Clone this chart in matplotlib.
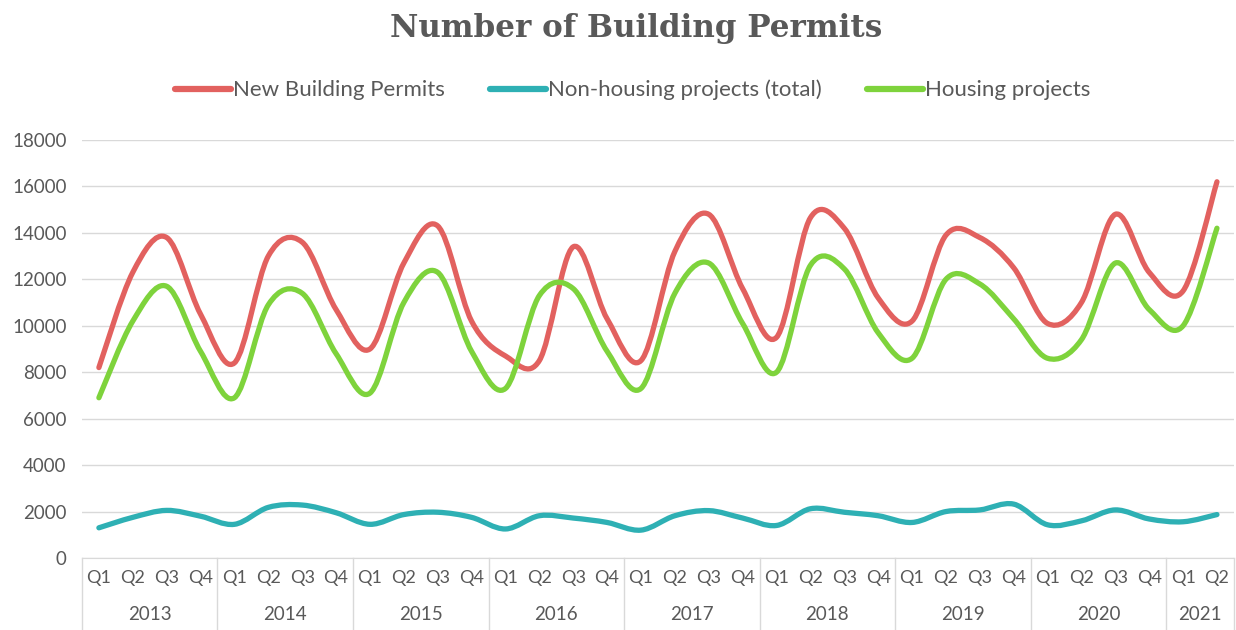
import matplotlib
matplotlib.use("Agg")
import matplotlib.pyplot as plt
from matplotlib.path import Path
from matplotlib.patches import PathPatch
from matplotlib.lines import Line2D
import matplotlib.transforms as mtransforms

# ---- data -------------------------------------------------------------
years = ["2013", "2014", "2015", "2016", "2017", "2018", "2019", "2020", "2021"]
quarters_per_year = [4, 4, 4, 4, 4, 4, 4, 4, 2]
quarter_labels = ["Q1", "Q2", "Q3", "Q4"]

new_permits = [8200, 12300, 13800, 10500,
               8400, 13000, 13600, 10700,
               9000, 12700, 14300, 10200,
               8700, 8500, 13400, 10300,
               8500, 13200, 14800, 11600,
               9500, 14650, 14200, 11200,
               10200, 13900, 13800, 12500,
               10100, 11000, 14800, 12300,
               11500, 16200]
non_housing = [1300, 1750, 2050, 1800,
               1450, 2180, 2280, 1950,
               1450, 1870, 1970, 1750,
               1250, 1820, 1720, 1530,
               1200, 1820, 2040, 1720,
               1400, 2120, 1970, 1820,
               1530, 2000, 2070, 2320,
               1430, 1600, 2070, 1680,
               1560, 1870]
housing = [6900, 10200, 11700, 8900,
           6900, 10900, 11400, 8800,
           7100, 11000, 12300, 8900,
           7300, 11300, 11600, 8900,
           7300, 11400, 12700, 10100,
           8000, 12600, 12450, 9700,
           8600, 12000, 11800, 10300,
           8600, 9400, 12700, 10700,
           10000, 14200]

series_names = ["New Building Permits", "Non-housing projects (total)", "Housing projects"]
series_values = [new_permits, non_housing, housing]
series_colors = ["#e2615f", "#2eb0b4", "#7ed33c"]

TEXT = "#595959"
GRID = "#d9d9d9"
FONT = "Lato"


def smooth_path(xs, ys, k=1.0 / 6.0):
    """Cubic Bezier path through the points (Catmull-Rom style smoothing)."""
    n = len(xs)
    verts = [(xs[0], ys[0])]
    codes = [Path.MOVETO]
    for i in range(n - 1):
        x0, y0 = (xs[i - 1], ys[i - 1]) if i > 0 else (xs[i], ys[i])
        x1, y1 = xs[i], ys[i]
        x2, y2 = xs[i + 1], ys[i + 1]
        x3, y3 = (xs[i + 2], ys[i + 2]) if i + 2 < n else (x2, y2)
        c1 = (x1 + (x2 - x0) * k, y1 + (y2 - y0) * k)
        c2 = (x2 - (x3 - x1) * k, y2 - (y3 - y1) * k)
        verts += [c1, c2, (x2, y2)]
        codes += [Path.CURVE4] * 3
    return Path(verts, codes)


fig = plt.figure(figsize=(12.36, 6.3), dpi=100)
ax = fig.add_axes([0.0663, 0.1143, 0.9320, 0.6635])

n = len(new_permits)
xs = list(range(n))
for vals, col in zip(series_values, series_colors):
    patch = PathPatch(smooth_path(xs, vals), facecolor="none", edgecolor=col,
                      lw=3.8, capstyle="round", joinstyle="round", zorder=3)
    ax.add_patch(patch)

ax.set_xlim(-0.5, n - 0.5)
ax.set_ylim(0, 18000)
ax.set_yticks(range(0, 18001, 2000))
ax.yaxis.grid(True, color=GRID, lw=1.0)
ax.set_axisbelow(True)
for s in ["top", "right", "left"]:
    ax.spines[s].set_visible(False)
ax.spines["bottom"].set_color(GRID)
ax.tick_params(axis="y", length=0, pad=11, labelsize=13.5, labelcolor=TEXT)
for lab in ax.get_yticklabels():
    lab.set_fontfamily(FONT)

# two-level category axis: quarters over years
ax.set_xticks([])
trans = mtransforms.blended_transform_factory(ax.transData, ax.transAxes)
ax_h = 418.0
q_y = -20 / ax_h
yr_y = -57 / ax_h
sep_bottom = -75 / ax_h
pos = 0
bounds = [-0.5]
for yr, nq in zip(years, quarters_per_year):
    for q in range(nq):
        ax.text(pos + q, q_y, quarter_labels[q], transform=trans, ha="center", va="center",
                fontsize=13, color=TEXT, family=FONT)
    ax.text(pos + (nq - 1) / 2, yr_y, yr, transform=trans, ha="center", va="center",
            fontsize=13.5, color=TEXT, family=FONT)
    pos += nq
    bounds.append(pos - 0.5)
for b in bounds:
    ax.add_line(Line2D([b, b], [0, sep_bottom], transform=trans, color=GRID,
                       lw=1.0, clip_on=False))

# title and legend
fig.text(0.515, 0.955, "Number of Building Permits", ha="center", va="center",
         fontsize=22.3, fontweight="bold", color=TEXT, family="DejaVu Serif")
handles = [Line2D([], [], color=c, lw=4.5, solid_capstyle="round") for c in series_colors]
leg = fig.legend(handles, series_names, loc="center", bbox_to_anchor=(0.512, 0.857),
                 ncol=3, frameon=False, handlelength=2.5, handletextpad=0.1,
                 columnspacing=2.05, prop={"family": FONT, "size": 16})
for t in leg.get_texts():
    t.set_color(TEXT)

fig.savefig("out.png", dpi=100, facecolor="white")
